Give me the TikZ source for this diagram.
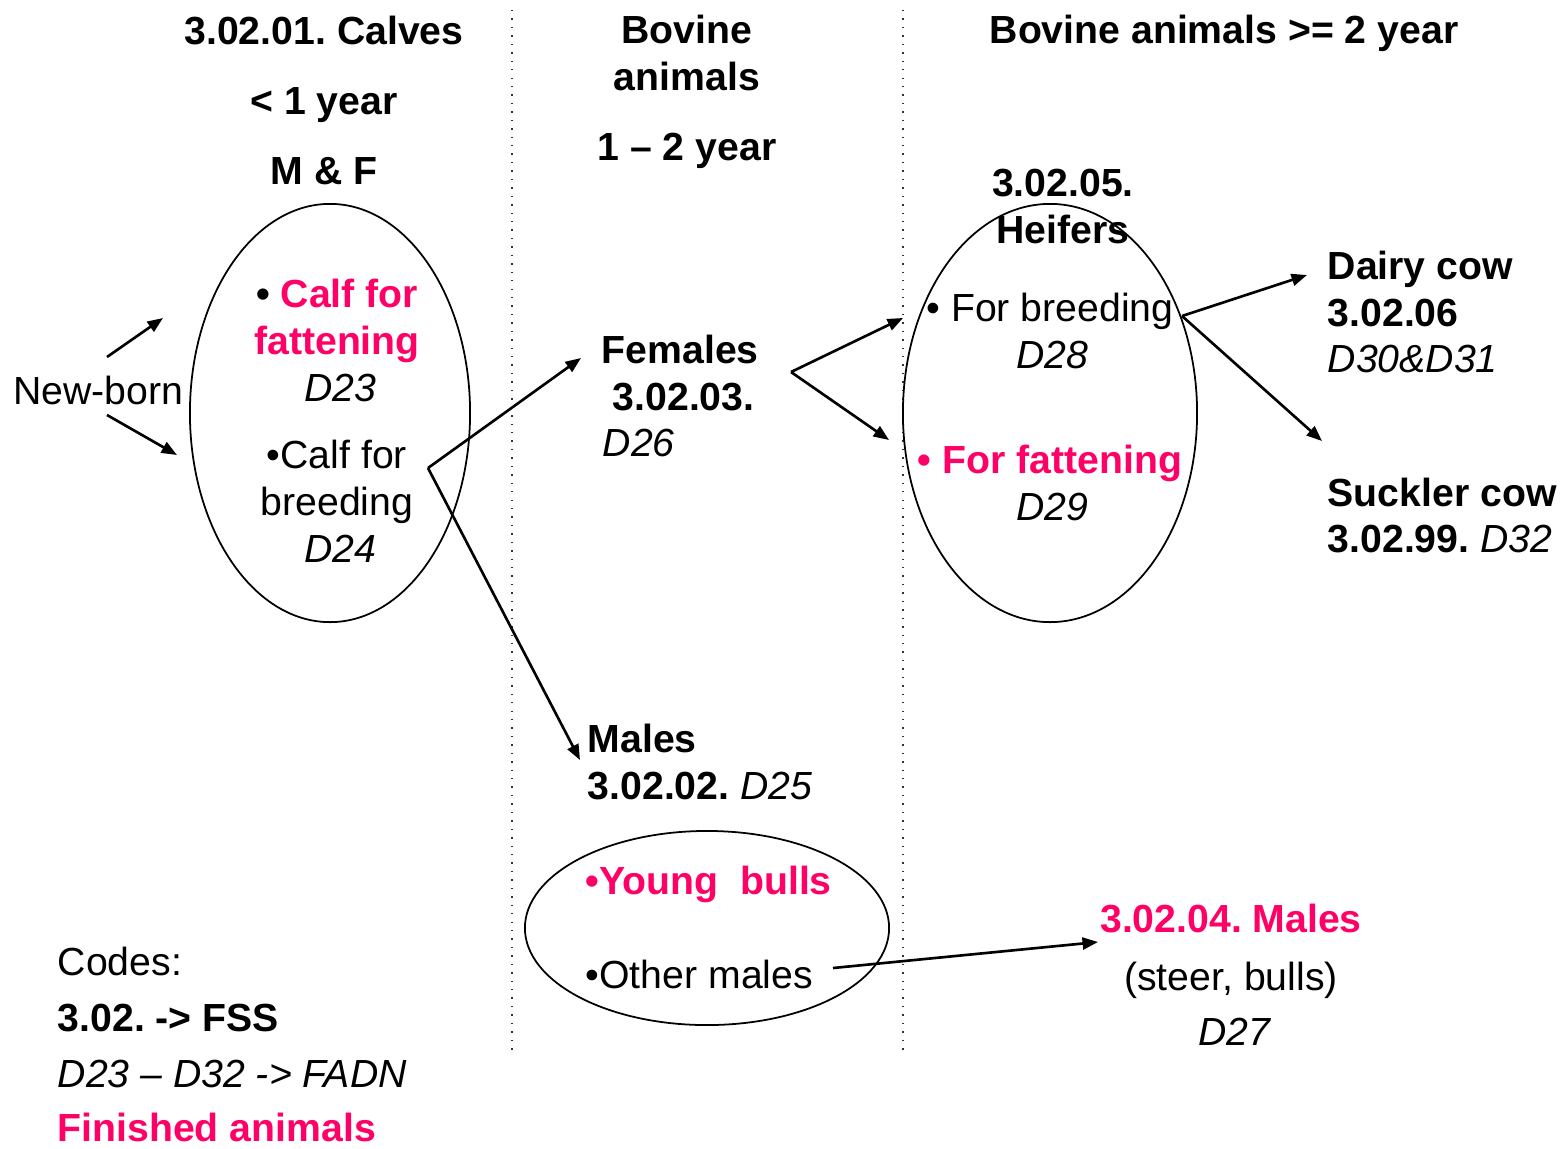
\documentclass[tikz,border=0pt]{standalone}
\usepackage{fontspec}
\setmainfont{Liberation Sans}
\usetikzlibrary{arrows.meta,shapes.geometric}
\definecolor{hot}{RGB}{255,0,102}
\frenchspacing
\begin{document}
\begin{tikzpicture}[x=0.01cm,y=-0.01cm,
  every node/.style={inner sep=0pt, font=\fontsize{11.15}{13}\selectfont, text height=0.72em, text depth=0pt},
  bf/.style={font=\fontsize{11.15}{13}\selectfont\bfseries},
  it/.style={font=\fontsize{11.15}{13}\selectfont\itshape},
  hotbf/.style={bf, text=hot},
  arr/.style={line width=0.75pt, -{Triangle[length=4.4pt,width=3.4pt]}},
  oval/.style={draw, ellipse, line width=0.5pt, text height=0pt},
  sepline/.style={dotted, line width=0.4pt, black!80}]
\useasboundingbox (0,0) rectangle (1561,1148);

% separators
\coordinate (s1a) at (512,10); \coordinate (s1b) at (512,1052);
\coordinate (s2a) at (903,10); \coordinate (s2b) at (903,1052);
\draw[sepline] (s1a) -- (s1b);
\draw[sepline] (s2a) -- (s2b);

% ovals
\node[oval, minimum width=2.80cm, minimum height=4.18cm] (ocalf) at (330,413) {};
\node[oval, minimum width=2.94cm, minimum height=4.18cm] (oheif) at (1050,413) {};
\node[oval, minimum width=3.64cm, minimum height=1.94cm] (obull) at (707,928) {};

% column 1
\node[bf] (t1) at (324,32) {3.02.01. Calves};
\node[bf] (t2) at (324,102) {< 1 year};
\node[bf] (t3) at (324,172) {M \& F};
\node[bf] (cf1) at (337,295) {\textbullet\ \textcolor{hot}{Calf for}};
\node[hotbf] (cf2) at (337,342) {fattening};
\node[it] (d23) at (340,389) {D23};
\node (cb1) at (337,456) {\textbullet Calf for};
\node (cb2) at (337,503) {breeding};
\node[it] (d24) at (340,550) {D24};
\node (nb) at (98,392) {New-born};

% column 2
\node[bf] (b1) at (687,31) {Bovine};
\node[bf] (b2) at (687,78) {animals};
\node[bf] (b3) at (687,148) {1 – 2 year};
\node[bf, anchor=west] (fem1) at (601,351) {Females};
\node[bf, anchor=west] (fem2) at (612,398) {3.02.03.};
\node[it, anchor=west] (d26) at (602,444) {D26};
\node[bf, anchor=west] (mal1) at (587,740) {Males};
\node[anchor=west] (mal2) at (587,787) {\bfseries 3.02.02. \itshape\mdseries D25};
\node[hotbf, anchor=west] (yb) at (585,882) {\textbullet Young\ \ bulls};
\node[anchor=west] (om) at (585,976) {\textbullet Other males};

% column 3
\node[bf] (h0) at (1224,31) {Bovine animals >= 2 year};
\node[bf] (h1) at (1063,184) {3.02.05.};
\node[bf] (h2) at (1063,231) {Heifers};
\node (fb) at (1050,309) {\textbullet\ For breeding};
\node[it] (d28) at (1052,356) {D28};
\node[hotbf] (ff) at (1050,461) {\textbullet\ For fattening};
\node[it] (d29) at (1052,508) {D29};
\node[bf, anchor=west] (dc1) at (1327,267) {Dairy cow};
\node[bf, anchor=west] (dc2) at (1327,314) {3.02.06};
\node[it, anchor=west] (dc3) at (1327,360) {D30\&D31};
\node[bf, anchor=west] (sc1) at (1327,494) {Suckler cow};
\node[anchor=west] (sc2) at (1327,540) {\bfseries 3.02.99. \itshape\mdseries D32};
\node[hotbf] (m1) at (1231,920) {3.02.04. Males};
\node (m2) at (1231,978) {(steer, bulls)};
\node[it] (m3) at (1234,1033) {D27};

% codes
\node[anchor=west] (c1) at (57,963) {Codes:};
\node[bf, anchor=west] (c2) at (57,1019) {3.02. -> FSS};
\node[it, anchor=west] (c3) at (57,1075) {D23 – D32 -> FADN};
\node[hotbf, anchor=west] (c4) at (57,1129) {Finished animals};

% arrows
\coordinate (nbA) at (107,357); \coordinate (nbAt) at (163,318);
\coordinate (nbB) at (107,415); \coordinate (nbBt) at (177,455);
\coordinate (v) at (428,468);
\coordinate (femt) at (581,358);
\coordinate (malt) at (580,760);
\coordinate (fv) at (791,372);
\coordinate (fbt) at (903,318);
\coordinate (fft) at (889,440);
\coordinate (hv) at (1182,316);
\coordinate (dct) at (1307,275);
\coordinate (sct) at (1322,441);
\coordinate (oms) at (833,968);
\coordinate (omt) at (1098,942);

\draw[arr] (nbA) -- (nbAt);
\draw[arr] (nbB) -- (nbBt);
\draw[arr] (v) -- (femt);
\draw[arr] (v) -- (malt);
\draw[arr] (fv) -- (fbt);
\draw[arr] (fv) -- (fft);
\draw[arr] (hv) -- (dct);
\draw[arr] (hv) -- (sct);
\draw[arr] (oms) -- (omt);
\end{tikzpicture}
\end{document}
